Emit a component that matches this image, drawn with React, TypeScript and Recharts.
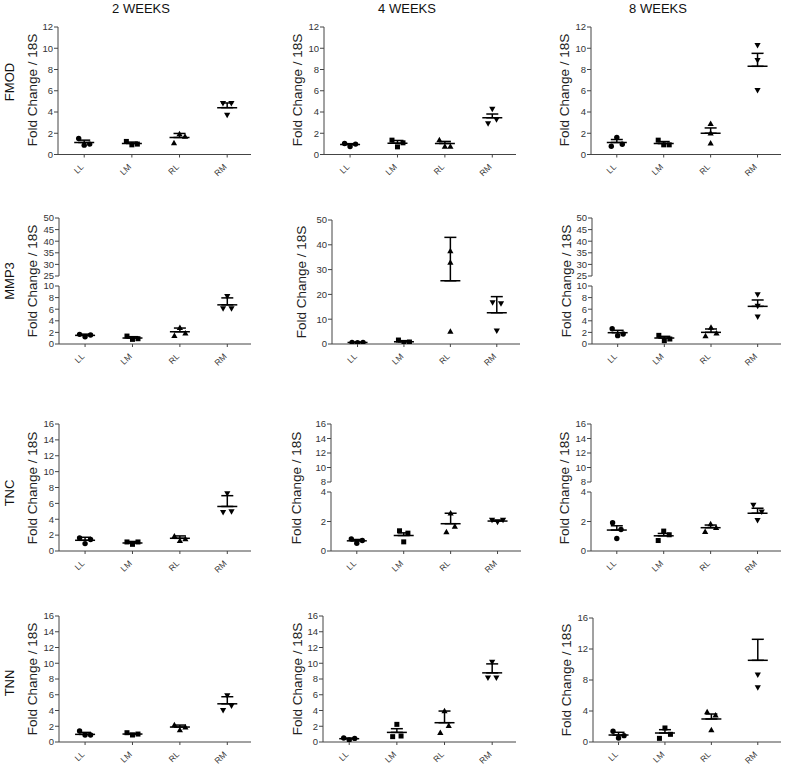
import React from 'react';
import { ComposedChart, Scatter, XAxis, YAxis, ErrorBar } from 'recharts';

const categories = ['LL', 'LM', 'RL', 'RM'];
const genes = ['FMOD', 'MMP3', 'TNC', 'TNN'];
const weeks = ['2 WEEKS', '4 WEEKS', '8 WEEKS'];
const yTitle = 'Fold Change / 18S';

// values listed in left-to-right order within each group
const fmod2wPoints = [[1.51, 0.88, 0.98], [1.23, 0.91, 0.98], [1.07, 1.92, 1.7], [4.82, 3.72, 4.82]];
const fmod2wMeans = [1.13, 1.04, 1.6, 4.41];
const fmod2wTops = [1.35, 1.17, 1.98, 4.85];

const fmod4wPoints = [[1.04, 0.76, 0.98], [1.35, 0.72, 1.1], [1.35, 0.76, 0.76], [2.93, 4.28, 3.31]];
const fmod4wMeans = [0.94, 1.07, 1.04, 3.46];
const fmod4wTops = [1.02, 1.32, 1.23, 3.81];

const fmod8wPoints = [[0.78, 1.6, 0.97], [1.35, 0.91, 0.91], [2.9, 2.0, 1.05], [10.28, 8.87, 6.05]];
const fmod8wMeans = [1.13, 1.03, 2.0, 8.3];
const fmod8wTops = [1.41, 1.22, 2.5, 9.52];

const mmp32wPoints = [[1.66, 1.26, 1.54], [1.37, 0.8, 0.91], [1.43, 2.8, 1.83], [6.11, 8.23, 6.11]];
const mmp32wMeans = [1.49, 1.03, 2.11, 6.75];
const mmp32wTops = [1.7, 1.26, 2.75, 7.95];

const mmp34wPoints = [[0.67, 0.54, 0.67], [1.6, 0.27, 0.8], [37.5, 32.8, 5.0], [16.8, 5.4, 16.4]];
const mmp34wMeans = [0.62, 0.9, 25.5, 12.6];
const mmp34wTops = [0.72, 1.35, 43.0, 19.1];

const mmp38wPoints = [[2.64, 1.44, 1.72], [1.49, 0.57, 0.86], [1.38, 2.82, 1.84], [8.56, 6.55, 4.71]];
const mmp38wMeans = [1.95, 1.03, 2.01, 6.49];
const mmp38wTops = [2.36, 1.32, 2.59, 7.59];

const tnc2wPoints = [[1.65, 0.93, 1.44], [1.14, 0.84, 1.14], [1.86, 1.27, 1.52], [4.9, 7.26, 4.98]];
const tnc2wMeans = [1.35, 1.01, 1.6, 5.61];
const tnc2wTops = [1.73, 1.2, 1.9, 6.97];

const tnc4wPoints = [[0.82, 0.53, 0.71], [1.37, 0.62, 1.21], [1.28, 2.56, 1.65], [2.1, 1.97, 2.1]];
const tnc4wMeans = [0.69, 1.05, 1.85, 2.03];
const tnc4wTops = [0.78, 1.23, 2.56, 2.1];

const tnc8wPoints = [[1.92, 0.85, 1.46], [0.71, 1.35, 1.1], [1.3, 1.83, 1.58], [3.13, 2.08, 2.67]];
const tnc8wMeans = [1.42, 1.03, 1.58, 2.56];
const tnc8wTops = [1.71, 1.19, 1.76, 2.9];

const tnn2wPoints = [[1.39, 0.89, 0.89], [1.18, 0.89, 1.01], [2.15, 1.52, 1.86], [4.05, 5.9, 4.6]];
const tnn2wMeans = [0.97, 1.01, 1.9, 4.85];
const tnn2wTops = [1.22, 1.1, 2.15, 5.75];

const tnn4wPoints = [[0.51, 0.25, 0.46], [0.68, 2.24, 0.76], [1.18, 3.93, 2.07], [8.15, 10.17, 8.15]];
const tnn4wMeans = [0.42, 1.22, 2.45, 8.78];
const tnn4wTops = [0.5, 1.69, 3.93, 9.92];

const tnn8wPoints = [[1.38, 0.52, 0.82], [0.47, 1.81, 0.99], [3.87, 1.55, 3.44], [8.69, 7.05, 16.4]];
const tnn8wMeans = [0.9, 1.16, 2.97, 10.54];
const tnn8wTops = [1.25, 1.59, 3.61, 13.25];

// tick labels
const fmodTicks = [0, 2, 4, 6, 8, 10, 12];
const mmp3UpperTicks = [25, 30, 35, 40, 45, 50];
const mmp3LowerTicks = [0, 2, 4, 6, 8, 10];
const mmp3FullTicks = [0, 10, 20, 30, 40, 50];
const sixteenTicks = [0, 2, 4, 6, 8, 10, 12, 14, 16];
const tncUpperTicks = [8, 10, 12, 14, 16];
const tncLowerTicks = [0, 2, 4];
const tnn8wTicks = [0, 4, 8, 12, 16];

// ---------- layout ----------
const FONT = '"Liberation Sans", Arial, Helvetica, sans-serif';
const XDOM: [number, number] = [-0.55, 3.5];
const YW = 40;
const MT = 7;
const MR = 4;
const XH = 32;
const AXIS = '#444';

type Seg = { top: number; bottom: number; ticks: number[] };
type PanelDef = {
  points: number[][];
  means: number[];
  tops: number[];
  axisX: number;
  right: number;
  segs: Seg[];
  titleX: number;
};

const panels: PanelDef[][] = [
  [
    { points: fmod2wPoints, means: fmod2wMeans, tops: fmod2wTops, axisX: 58, right: 251, segs: [{ top: 26.5, bottom: 154, ticks: fmodTicks }], titleX: 33 },
    { points: fmod4wPoints, means: fmod4wMeans, tops: fmod4wTops, axisX: 324, right: 516, segs: [{ top: 26.5, bottom: 154, ticks: fmodTicks }], titleX: 298 },
    { points: fmod8wPoints, means: fmod8wMeans, tops: fmod8wTops, axisX: 591, right: 781, segs: [{ top: 26.5, bottom: 154, ticks: fmodTicks }], titleX: 565 },
  ],
  [
    { points: mmp32wPoints, means: mmp32wMeans, tops: mmp32wTops, axisX: 59, right: 251, segs: [{ top: 218, bottom: 276, ticks: mmp3UpperTicks }, { top: 286, bottom: 344, ticks: mmp3LowerTicks }], titleX: 33 },
    { points: mmp34wPoints, means: mmp34wMeans, tops: mmp34wTops, axisX: 332, right: 520, segs: [{ top: 220, bottom: 344, ticks: mmp3FullTicks }], titleX: 302 },
    { points: mmp38wPoints, means: mmp38wMeans, tops: mmp38wTops, axisX: 592, right: 781, segs: [{ top: 218, bottom: 276, ticks: mmp3UpperTicks }, { top: 286, bottom: 344, ticks: mmp3LowerTicks }], titleX: 567 },
  ],
  [
    { points: tnc2wPoints, means: tnc2wMeans, tops: tnc2wTops, axisX: 59, right: 251, segs: [{ top: 424, bottom: 551, ticks: sixteenTicks }], titleX: 33 },
    { points: tnc4wPoints, means: tnc4wMeans, tops: tnc4wTops, axisX: 331, right: 521, segs: [{ top: 424, bottom: 482, ticks: tncUpperTicks }, { top: 492, bottom: 551, ticks: tncLowerTicks }], titleX: 297 },
    { points: tnc8wPoints, means: tnc8wMeans, tops: tnc8wTops, axisX: 591, right: 781, segs: [{ top: 424, bottom: 482, ticks: tncUpperTicks }, { top: 492, bottom: 551, ticks: tncLowerTicks }], titleX: 565 },
  ],
  [
    { points: tnn2wPoints, means: tnn2wMeans, tops: tnn2wTops, axisX: 59, right: 251, segs: [{ top: 616, bottom: 742, ticks: sixteenTicks }], titleX: 33 },
    { points: tnn4wPoints, means: tnn4wMeans, tops: tnn4wTops, axisX: 323, right: 516, segs: [{ top: 616, bottom: 742, ticks: sixteenTicks }], titleX: 298 },
    { points: tnn8wPoints, means: tnn8wMeans, tops: tnn8wTops, axisX: 593, right: 781, segs: [{ top: 618, bottom: 742, ticks: tnn8wTicks }], titleX: 567 },
  ],
];

const colTitleX = [141, 407, 658];
const rowLabelY = [82, 281, 493, 683];

// spread points horizontally when they would overlap (like a dot plot)
function spreadGroup(vals: number[], pxPerUnit: number): number[] {
  const n = vals.length;
  const off = new Array(n).fill(0);
  if (n === 0) return off;
  const idx = vals.map((_, i) => i).sort((a, b) => vals[a] - vals[b]);
  const clusters: number[][] = [];
  let cur: number[] = [idx[0]];
  for (let k = 1; k < n; k++) {
    if ((vals[idx[k]] - vals[idx[k - 1]]) * pxPerUnit < 7.5) cur.push(idx[k]);
    else {
      clusters.push(cur);
      cur = [idx[k]];
    }
  }
  clusters.push(cur);
  clusters.forEach((c) => {
    if (c.length < 2) return;
    const ordered = [...c].sort((a, b) => a - b);
    const step = c.length === 2 ? 8.4 : 5.5;
    ordered.forEach((i, j) => {
      off[i] = (j - (ordered.length - 1) / 2) * step;
    });
  });
  return off;
}

function Marker(props: any) {
  const { cx, cy, payload } = props;
  if (cx == null || cy == null || !payload) return null;
  const c = payload.cat;
  if (c === 0) return <circle cx={cx} cy={cy} r={2.7} fill="#000" />;
  if (c === 1) return <rect x={cx - 2.5} y={cy - 2.5} width={5} height={5} fill="#000" />;
  if (c === 2)
    return <polygon points={`${cx},${cy - 3.3} ${cx + 3.1},${cy + 2.2} ${cx - 3.1},${cy + 2.2}`} fill="#000" />;
  return <polygon points={`${cx},${cy + 3.3} ${cx + 3.1},${cy - 2.2} ${cx - 3.1},${cy - 2.2}`} fill="#000" />;
}

function MeanLine(props: any) {
  const { cx, cy } = props;
  if (cx == null || cy == null) return null;
  return <line x1={cx - 10} x2={cx + 10} y1={cy} y2={cy} stroke="#000" strokeWidth={1.5} />;
}

const renderXTick = (props: any) => {
  const { x, y, payload } = props;
  const label = categories[Math.round(payload?.value ?? 0)] ?? '';
  const ax = Number(x);
  const ay = Number(y) + 8;
  return (
    <text
      x={ax}
      y={ay}
      textAnchor="end"
      transform={`rotate(-45 ${ax} ${ay})`}
      style={{ fontSize: 8.5, fontFamily: FONT, fill: '#333' }}
    >
      {label}
    </text>
  );
};

function Panel({ def }: { def: PanelDef }) {
  const plotW = def.right - def.axisX;
  const pxPerCat = plotW / (XDOM[1] - XDOM[0]);
  const last = def.segs[def.segs.length - 1];
  const lowDom = [last.ticks[0], last.ticks[last.ticks.length - 1]];
  const pxPerUnit = (last.bottom - last.top) / (lowDom[1] - lowDom[0]);
  const topMax = def.segs[0].ticks[def.segs[0].ticks.length - 1];

  const allPts: { x: number; y: number; cat: number }[] = [];
  def.points.forEach((grp, cat) => {
    const vis = grp.filter((v) => v <= topMax);
    const off = spreadGroup(vis, pxPerUnit);
    vis.forEach((v, i) => allPts.push({ x: cat + off[i] / pxPerCat, y: v, cat }));
  });
  const meanPts = def.means.map((m, cat) => ({ x: cat, y: m, cat, err: [0, def.tops[cat] - m] }));

  return (
    <>
      {def.segs.map((seg, si) => {
        const showX = si === def.segs.length - 1;
        const dom: [number, number] = [seg.ticks[0], seg.ticks[seg.ticks.length - 1]];
        const inDom = (v: number) => v >= dom[0] && v <= dom[1];
        const plotH = seg.bottom - seg.top;
        const width = YW + plotW + MR;
        const height = MT + plotH + (showX ? XH : 6);
        const pts = allPts.filter((p) => inDom(p.y));
        const mns = meanPts.filter((p) => inDom(p.y));
        return (
          <div key={si} style={{ position: 'absolute', left: def.axisX - YW, top: seg.top - MT }}>
            <ComposedChart
              width={width}
              height={height}
              margin={{ top: MT, right: MR, bottom: showX ? 0 : 6, left: 0 }}
            >
              <XAxis
                type="number"
                dataKey="x"
                domain={XDOM}
                ticks={[0, 1, 2, 3]}
                interval={0}
                allowDataOverflow
                hide={!showX}
                height={XH}
                stroke={AXIS}
                tickSize={3}
                tickMargin={2}
                tick={renderXTick}
              />
              <YAxis
                type="number"
                dataKey="y"
                domain={dom}
                ticks={seg.ticks}
                interval={0}
                allowDataOverflow
                width={YW}
                stroke={AXIS}
                tickSize={4}
                tickMargin={1}
                tick={{ fontSize: 9.5, fill: '#333', fontFamily: FONT }}
              />
              <Scatter data={pts} shape={Marker} isAnimationActive={false} />
              <Scatter data={mns} shape={MeanLine} isAnimationActive={false}>
                <ErrorBar dataKey="err" direction="y" width={6} stroke="#000" strokeWidth={1.5} />
              </Scatter>
            </ComposedChart>
          </div>
        );
      })}
      <div
        style={{
          position: 'absolute',
          left: def.titleX,
          top: (def.segs[0].top + last.bottom) / 2,
          transform: 'translate(-50%, -50%) rotate(-90deg)',
          whiteSpace: 'nowrap',
          fontSize: 13.5,
          fontFamily: FONT,
          color: '#222',
          lineHeight: 1,
        }}
      >
        {yTitle}
      </div>
    </>
  );
}

export default function App() {
  return (
    <div
      style={{
        position: 'absolute',
        left: 0,
        top: 0,
        width: 785,
        height: 766,
        background: '#fff',
        overflow: 'hidden',
        fontFamily: FONT,
      }}
    >
      {weeks.map((w, i) => (
        <div
          key={w}
          style={{
            position: 'absolute',
            left: colTitleX[i],
            top: 8,
            transform: 'translate(-50%, -50%)',
            whiteSpace: 'nowrap',
            fontSize: 13,
            color: '#111',
            lineHeight: 1,
          }}
        >
          {w}
        </div>
      ))}
      {genes.map((g, i) => (
        <div
          key={g}
          style={{
            position: 'absolute',
            left: 9,
            top: rowLabelY[i],
            transform: 'translate(-50%, -50%) rotate(-90deg)',
            whiteSpace: 'nowrap',
            fontSize: 13,
            color: '#111',
            lineHeight: 1,
          }}
        >
          {g}
        </div>
      ))}
      {panels.map((row, r) => row.map((def, c) => <Panel key={`${r}-${c}`} def={def} />))}
    </div>
  );
}
